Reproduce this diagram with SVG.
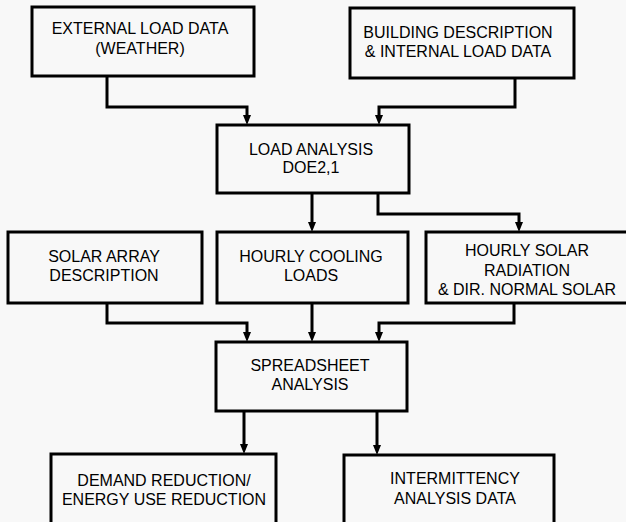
<svg xmlns="http://www.w3.org/2000/svg" width="626" height="522" viewBox="0 0 626 522">
  <style>
    .box { fill: none; stroke: #000; stroke-width: 3; }
    .lbl { font-family: "Liberation Sans", Arial, sans-serif; font-size: 16px; fill: #000; text-anchor: middle; }
    .con { fill: none; stroke: #000; stroke-width: 3; stroke-linejoin: miter; }
  </style>
  <defs>
    <marker id="arr" markerUnits="userSpaceOnUse" markerWidth="10" markerHeight="8" viewBox="0 0 10 8" refX="1" refY="4" orient="auto">
      <path d="M0,0 L10,4 L0,8 z" fill="#000"/>
    </marker>
  </defs>
  <rect width="626" height="522" fill="#f8f8f8"/>

  <g id="external-load">
    <rect class="box" x="32" y="7" width="222" height="69"/>
    <text class="lbl" x="140" y="34">EXTERNAL LOAD DATA</text>
    <text class="lbl" x="140" y="54">(WEATHER)</text>
  </g>
  <g id="building-description">
    <rect class="box" x="350" y="8" width="224" height="70"/>
    <text class="lbl" x="458" y="38">BUILDING DESCRIPTION</text>
    <text class="lbl" x="458" y="57">&amp; INTERNAL LOAD DATA</text>
  </g>
  <g id="load-analysis">
    <rect class="box" x="217" y="125" width="192" height="68"/>
    <text class="lbl" x="311" y="155">LOAD ANALYSIS</text>
    <text class="lbl" x="311" y="173">DOE2,1</text>
  </g>
  <g id="solar-array">
    <rect class="box" x="8" y="232" width="194" height="71"/>
    <text class="lbl" x="104" y="262">SOLAR ARRAY</text>
    <text class="lbl" x="104" y="281">DESCRIPTION</text>
  </g>
  <g id="hourly-cooling">
    <rect class="box" x="217" y="232" width="191" height="71"/>
    <text class="lbl" x="311" y="262">HOURLY COOLING</text>
    <text class="lbl" x="311" y="281">LOADS</text>
  </g>
  <g id="hourly-solar">
    <rect class="box" x="426" y="232" width="210" height="71"/>
    <text class="lbl" x="527" y="256">HOURLY SOLAR</text>
    <text class="lbl" x="527" y="276">RADIATION</text>
    <text class="lbl" x="527" y="295">&amp; DIR. NORMAL SOLAR</text>
  </g>
  <g id="spreadsheet">
    <rect class="box" x="216" y="342" width="191" height="69"/>
    <text class="lbl" x="310" y="371">SPREADSHEET</text>
    <text class="lbl" x="310" y="390">ANALYSIS</text>
  </g>
  <g id="demand-reduction">
    <rect class="box" x="51" y="454" width="225" height="70"/>
    <text class="lbl" x="164" y="486">DEMAND REDUCTION/</text>
    <text class="lbl" x="164" y="505">ENERGY USE REDUCTION</text>
  </g>
  <g id="intermittency">
    <rect class="box" x="344" y="455" width="210" height="70"/>
    <text class="lbl" x="455" y="484">INTERMITTENCY</text>
    <text class="lbl" x="455" y="504">ANALYSIS DATA</text>
  </g>

  <g id="connectors">
    <path class="con" marker-end="url(#arr)" d="M107,76 V107 H247 V116"/>
    <path class="con" marker-end="url(#arr)" d="M515,78 V107 H379 V116"/>
    <path class="con" marker-end="url(#arr)" d="M312,193 V223"/>
    <path class="con" marker-end="url(#arr)" d="M378,193 V214 H519 V223"/>
    <path class="con" marker-end="url(#arr)" d="M107,303 V323 H247 V333"/>
    <path class="con" marker-end="url(#arr)" d="M312,303 V333"/>
    <path class="con" marker-end="url(#arr)" d="M514,303 V323 H379 V333"/>
    <path class="con" marker-end="url(#arr)" d="M244,411 V445"/>
    <path class="con" marker-end="url(#arr)" d="M377,411 V446"/>
  </g>
</svg>
